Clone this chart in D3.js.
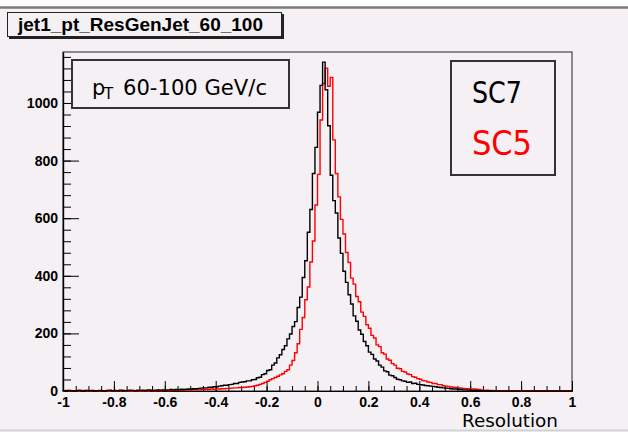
<!DOCTYPE html>
<html>
<head>
<meta charset="utf-8">
<script src="https://cdn.jsdelivr.net/npm/d3@7"></script>
<style>
  body { margin: 0; background: #ffffff; }
  svg { display: block; }
  .tick text { font-family: "Liberation Sans", Arial, sans-serif; font-weight: bold; font-size: 14px; fill: #000; }
  .tick line, .domain { stroke: #000; }
</style>
</head>
<body>
<svg width="628" height="432"></svg>
<script>
// histogram range and binning (0.01 per bin, -1 .. 1)
var xMin = -1, xMax = 1, binWidth = 0.01;
var yMax = 1177;

// SC7 (black), counts per bin from -1 to 1
var sc7Counts = [
  1,0,2,1,0,1,3,0,1,2,
  1,2,0,1,2,1,0,2,3,1,
  2,1,3,2,1,2,3,2,1,3,
  2,3,2,4,3,2,3,4,3,4,
  3,4,5,4,5,4,6,5,6,7,
  7,8,8,9,10,11,11,13,13,15,
  15,17,18,20,20,22,23,26,26,30,
  31,32,35,35,39,40,46,48,57,60,
  71,74,90,97,115,126,144,157,181,198,
  224,241,290,326,394,452,551,630,755,846,
  968,1061,1142,1046,921,749,661,618,531,478,
  416,377,334,302,261,242,212,197,172,157,
  135,127,111,104,90,83,70,67,55,53,
  47,41,39,35,34,30,31,26,27,23,
  22,21,19,18,17,16,15,13,12,11,
  10,9,8,7,7,6,5,4,4,3,
  3,2,2,1,1,1,0,1,0,0,
  0,0,0,0,0,0,0,0,0,0,
  0,0,0,0,0,0,0,0,0,0,
  0,0,0,0,0,0,0,0,0,0
];

// SC5 (red)
var sc5Counts = [
  0,2,0,0,1,0,0,0,2,0,
  0,1,0,0,0,1,0,0,0,0,
  1,0,0,2,0,0,1,0,0,1,
  0,1,1,0,2,1,1,2,1,2,
  2,1,2,3,2,3,2,3,4,3,
  4,4,5,4,5,6,5,6,7,6,
  7,7,8,8,9,9,10,11,11,12,
  12,13,14,15,16,18,20,23,26,30,
  34,39,43,47,51,56,60,68,74,90,
  106,133,164,214,255,317,361,448,521,646,
  752,941,1068,1121,1058,1089,872,755,674,596,
  545,481,446,392,371,328,310,274,259,230,
  218,193,184,160,154,133,128,111,107,95,
  90,79,77,68,66,59,57,50,48,43,
  41,36,35,31,30,26,26,22,22,18,
  17,16,14,13,12,11,10,9,8,8,
  7,7,6,5,4,3,3,2,2,1,
  0,0,0,0,0,0,0,0,0,0,
  0,0,0,0,0,0,0,0,0,0,
  0,0,0,0,0,0,0,0,0,0
];

var xTicks = [-1, -0.8, -0.6, -0.4, -0.2, 0, 0.2, 0.4, 0.6, 0.8, 1];
var yTicks = [0, 200, 400, 600, 800, 1000];

var bg = "#f4f0f4";
var svg = d3.select("svg");

var frame = {left: 63, right: 572, top: 52, bottom: 391};

var x = d3.scaleLinear().domain([xMin, xMax]).range([frame.left, frame.right]),
    y = d3.scaleLinear().domain([0, yMax]).range([frame.bottom, frame.top]);

// canvas
svg.append("rect").attr("x", 0).attr("y", 0).attr("width", 628).attr("height", 432).attr("fill", "#fdfdfd");
svg.append("rect").attr("x", 0).attr("y", 8).attr("width", 628).attr("height", 422).attr("fill", bg);
svg.append("line").attr("x1", 0).attr("x2", 628).attr("y1", 7.5).attr("y2", 7.5)
    .attr("stroke", "#7a7a7a").attr("stroke-width", 2.5);
svg.append("line").attr("x1", 0).attr("x2", 628).attr("y1", 430.5).attr("y2", 430.5)
    .attr("stroke", "#d2d2d2").attr("stroke-width", 2);

// frame
svg.append("rect")
    .attr("x", frame.left).attr("y", frame.top)
    .attr("width", frame.right - frame.left).attr("height", frame.bottom - frame.top)
    .attr("fill", bg).attr("stroke", "#444").attr("stroke-width", 1.2);

// minor ticks
var xMinor = d3.range(-1, 1.0001, 0.05).map(function(d) { return +d.toFixed(2); });
var yMinor = d3.range(0, yMax, 40);

svg.append("g")
    .attr("transform", "translate(0," + frame.bottom + ")")
    .call(d3.axisBottom(x).tickValues(xMinor).tickSizeInner(-5).tickSizeOuter(0).tickFormat(""));

svg.append("g")
    .attr("transform", "translate(" + frame.left + ",0)")
    .call(d3.axisLeft(y).tickValues(yMinor).tickSizeInner(-8).tickSizeOuter(0).tickFormat(""));

// major ticks and labels
svg.append("g")
    .attr("class", "axis axis--x")
    .attr("transform", "translate(0," + frame.bottom + ")")
    .call(d3.axisBottom(x).tickValues(xTicks).tickSizeInner(-10).tickSizeOuter(0).tickPadding(6)
        .tickFormat(function(d) { return String(+d.toFixed(1)); }));

svg.append("g")
    .attr("class", "axis axis--y")
    .attr("transform", "translate(" + frame.left + ",0)")
    .call(d3.axisLeft(y).tickValues(yTicks).tickSizeInner(-16).tickSizeOuter(0).tickPadding(5)
        .tickFormat(function(d) { return String(d); }));

svg.selectAll(".domain").attr("stroke-width", 1.2);

// histograms
function stepPoints(counts) {
    var pts = [[xMin, 0]];
    counts.forEach(function(c, i) {
        pts.push([xMin + i * binWidth, c]);
    });
    pts.push([xMax, counts[counts.length - 1]]);
    pts.push([xMax, 0]);
    return pts;
}

var line = d3.line()
    .x(function(d) { return x(d[0]); })
    .y(function(d) { return y(d[1]); })
    .curve(d3.curveStepAfter);

svg.append("path").datum(stepPoints(sc5Counts))
    .attr("d", line).attr("fill", "none").attr("stroke", "#ff0000").attr("stroke-width", 1.4);

svg.append("path").datum(stepPoints(sc7Counts))
    .attr("d", line).attr("fill", "none").attr("stroke", "#000000").attr("stroke-width", 1.4);

// x axis title
svg.append("text")
    .attr("x", 462).attr("y", 427)
    .attr("textLength", 96).attr("lengthAdjust", "spacingAndGlyphs")
    .style("font-family", "'DejaVu Sans', Verdana, sans-serif").style("font-size", "18px")
    .text("Resolution");

// title box
svg.append("rect").attr("x", 9).attr("y", 14).attr("width", 275).attr("height", 25).attr("fill", "#222");
svg.append("rect").attr("x", 7.5).attr("y", 12.5).attr("width", 274).attr("height", 24)
    .attr("fill", bg).attr("stroke", "#222").attr("stroke-width", 1);
svg.append("text")
    .attr("x", 18).attr("y", 31)
    .attr("textLength", 245).attr("lengthAdjust", "spacingAndGlyphs")
    .style("font-family", "'Liberation Sans', Arial, sans-serif").style("font-weight", "bold").style("font-size", "18.5px")
    .text("jet1_pt_ResGenJet_60_100");

// pT box
svg.append("rect").attr("x", 72).attr("y", 60).attr("width", 217).attr("height", 48)
    .attr("fill", bg).attr("stroke", "#333").attr("stroke-width", 2);
var ptFont = "'DejaVu Sans', Verdana, sans-serif";
svg.append("text").attr("x", 92).attr("y", 94.5)
    .style("font-family", ptFont).style("font-size", "21px").text("p");
svg.append("text").attr("x", 104).attr("y", 99)
    .style("font-family", ptFont).style("font-size", "15px").text("T");
svg.append("text").attr("x", 123).attr("y", 94.5)
    .attr("textLength", 144).attr("lengthAdjust", "spacingAndGlyphs")
    .style("font-family", ptFont).style("font-size", "21px").text("60-100 GeV/c");

// legend box
svg.append("rect").attr("x", 451).attr("y", 61).attr("width", 104).attr("height", 114)
    .attr("fill", bg).attr("stroke", "#333").attr("stroke-width", 2);
svg.append("text").attr("x", 472).attr("y", 103)
    .attr("textLength", 50).attr("lengthAdjust", "spacingAndGlyphs")
    .style("font-family", ptFont).style("font-size", "31px").attr("fill", "#000").text("SC7");
svg.append("text").attr("x", 472).attr("y", 155)
    .attr("textLength", 60).attr("lengthAdjust", "spacingAndGlyphs")
    .style("font-family", ptFont).style("font-size", "34px").attr("fill", "#ff0000").text("SC5");
</script>
</body>
</html>
